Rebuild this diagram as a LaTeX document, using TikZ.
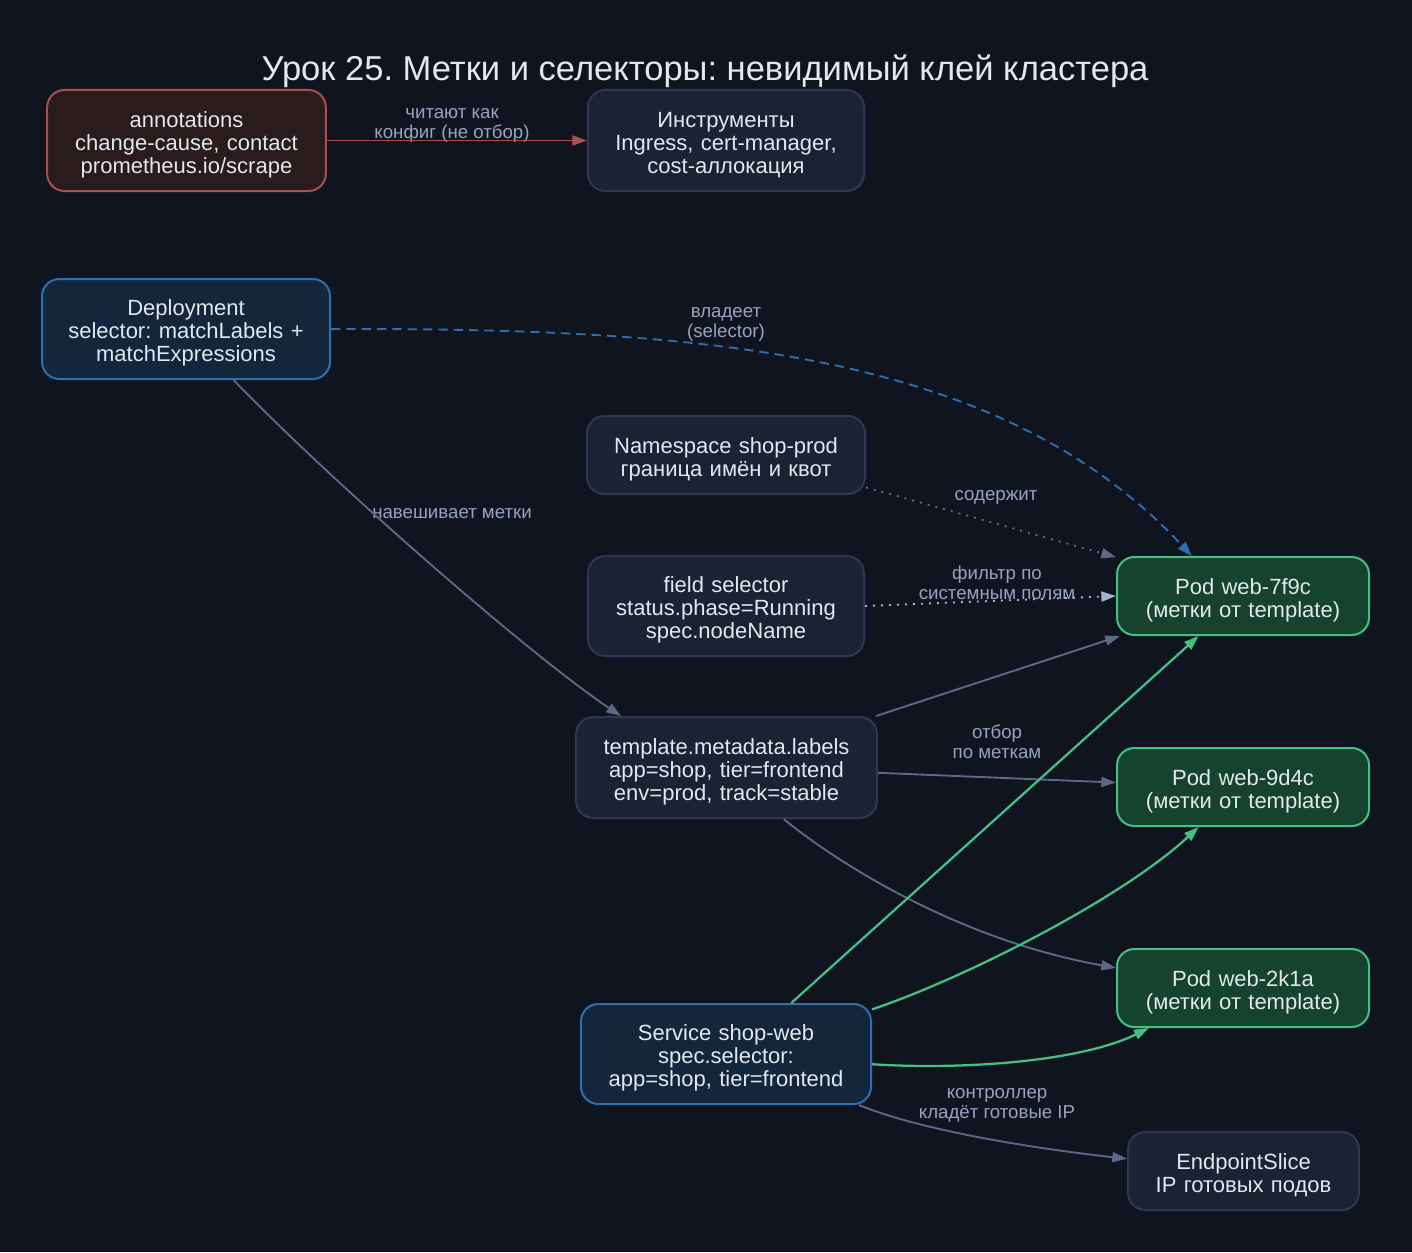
\documentclass[tikz,border=0pt]{standalone}
\usepackage{fontspec}
\setmainfont{Liberation Sans}
\usetikzlibrary{arrows.meta, positioning}
\frenchspacing

\definecolor{bgc}{HTML}{10141F}
\definecolor{txt}{HTML}{E2E8F0}
\definecolor{lbltxt}{HTML}{95A4C2}
\definecolor{boxfill}{HTML}{1C2234}
\definecolor{boxline}{HTML}{2D3852}
\definecolor{bluefill}{HTML}{13263B}
\definecolor{blueline}{HTML}{2E6FB2}
\definecolor{redfill}{HTML}{2A1B1D}
\definecolor{redline}{HTML}{A94F4F}
\definecolor{podfill}{HTML}{15432D}
\definecolor{podline}{HTML}{43C185}
\definecolor{edgegray}{HTML}{5D6988}
\definecolor{edgelight}{HTML}{A3B3D2}

\begin{document}
\begin{tikzpicture}[
    x=0.75pt, y=-0.75pt,
    box/.style={draw=boxline, fill=boxfill, rectangle, rounded corners=13pt, line width=1.5pt,
        text width=#1, align=center, text=txt, font=\fontsize{16.5}{17.3}\selectfont,
        inner sep=0pt, execute at begin node={\rule{0pt}{18pt}}},
    svcbox/.style={box=#1, draw=blueline, fill=bluefill},
    notebox/.style={box=#1, draw=redline, fill=redfill},
    podbox/.style={box=189pt, draw=podline, fill=podfill, minimum height=58.5pt},
    lbl/.style={align=center, text=lbltxt, font=\fontsize{14}{15}\selectfont},
    arrow/.style={-{Triangle[length=11pt, width=7.5pt]}, line width=1.4pt, draw=edgegray},
    selarrow/.style={arrow, draw=podline, line width=1.7pt},
    dots/.style={dash pattern=on 1.5pt off 4.5pt}
]
\fill[bgc] (0,0) rectangle (1412,1252);
\useasboundingbox (0,0) rectangle (1412,1252);

% Title
\node[text=txt, font=\fontsize{25.9}{28}\selectfont] (title) at (705,71)
    {Урок 25. Метки и селекторы: невидимый клей кластера};

% Nodes
\node[notebox=209pt, minimum height=75.75pt] (ann) at (186.5,140.5)
    {annotations\\change-cause, contact\\prometheus.io/scrape};
\node[box=207pt, minimum height=75.75pt] (tools) at (726,140.5)
    {Инструменты\\Ingress, cert-manager,\\cost-аллокация};

\node[svcbox=216pt, minimum height=75pt] (deploy) at (186,329)
    {Deployment\\selector: matchLabels +\\matchExpressions};

\node[box=208.5pt, minimum height=58.5pt] (ns) at (726,455)
    {Namespace shop-prod\\граница имён и квот};
\node[box=207pt, minimum height=75pt] (field) at (726,606)
    {field selector\\status.phase=Running\\spec.nodeName};
\node[box=225.75pt, minimum height=75.75pt] (tmpl) at (726.5,767.5)
    {template.metadata.labels\\app=shop, tier=frontend\\env=prod, track=stable};
\node[svcbox=217.5pt, minimum height=75pt] (svc) at (726,1054)
    {Service shop-web\\spec.selector:\\app=shop, tier=frontend};

\node[podbox] (pod1) at (1243,596) {Pod web-7f9c\\(метки от template)};
\node[podbox, below=83.25pt of pod1] (pod2) {Pod web-9d4c\\(метки от template)};
\node[podbox, below=90.75pt of pod2] (pod3) {Pod web-2k1a\\(метки от template)};
\node[box=173.25pt, minimum height=58.5pt] (eps) at (1243.5,1171)
    {EndpointSlice\\IP готовых подов};

% Edge labels
\node[lbl] (lread) at (452,125) {читают как\\конфиг (не отбор)};
\node[lbl] (lown) at (726,324) {владеет\\(selector)};
\node[lbl] (lput) at (452,514) {навешивает метки};
\node[lbl] (lcont) at (996,497) {содержит};
\node[lbl] (lfilt) at (997,583) {фильтр по\\системным полям};
\node[lbl] (lsel) at (997,742) {отбор\\по меткам};
\node[lbl] (lctl) at (997,1105) {контроллер\\кладёт готовые IP};

% Arrows
\draw [arrow, draw=redline] (ann.east) -- (tools.west);
\draw [arrow, draw=blueline, dash pattern=on 7pt off 4.5pt]
    (deploy.east) .. controls (700,328) and (1000,350) .. (pod1.142);
\draw [arrow] (deploy.-47) .. controls (335,485) and (530,655) .. (tmpl.154);

\draw [arrow, dots] (ns.-13) -- (pod1.163);
\draw [arrow, dots, draw=edgelight] (field.east) -- (pod1.west);

\draw [arrow] (tmpl.19) -- (pod1.198);
\draw [arrow] (tmpl.-2) -- (pod2.178);
\draw [arrow] (tmpl.-42) .. controls (840,865) and (960,940) .. (pod3.171);

\draw [selarrow] (svc.38) -- (pod1.222);
\draw [selarrow] (svc.17) .. controls (960,980) and (1120,900) .. (pod2.222);
\draw [selarrow] (svc.-4) .. controls (960,1070) and (1080,1062) .. (pod3.203);
\draw [arrow] (svc.-21) .. controls (920,1130) and (1030,1148) .. (eps.174);

\end{tikzpicture}
\end{document}
